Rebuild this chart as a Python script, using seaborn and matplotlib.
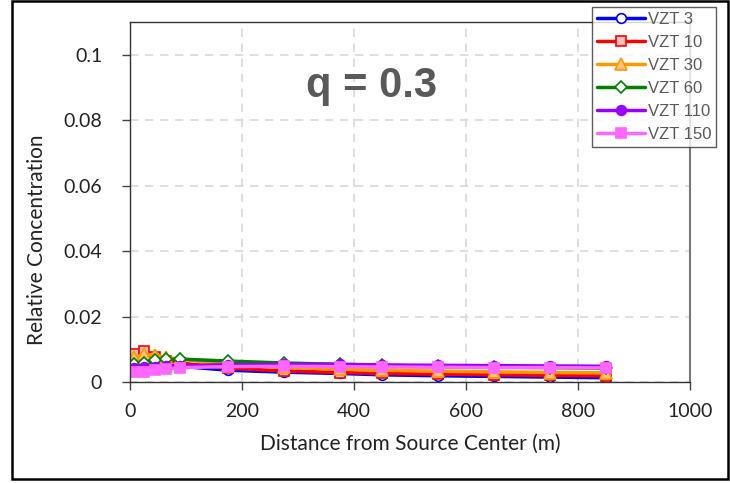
import pandas as pd
import numpy as np
import matplotlib
matplotlib.use("Agg")
import matplotlib.pyplot as plt
import seaborn as sns
from matplotlib.patches import Rectangle

# 数据
distance = [8, 25, 45, 65, 90, 175, 275, 375, 450, 550, 650, 750, 850]
vzt3 = [0.0055, 0.0058, 0.0055, 0.0050, 0.0048, 0.0036, 0.0030, 0.0026, 0.0022, 0.0019, 0.0017, 0.0015, 0.0013]
vzt10 = [0.0085, 0.0095, 0.0075, 0.0065, 0.0058, 0.0042, 0.0034, 0.0029, 0.0026, 0.0024, 0.0022, 0.0020, 0.0019]
vzt30 = [0.0075, 0.0085, 0.0082, 0.0075, 0.0070, 0.0052, 0.0045, 0.0039, 0.0036, 0.0033, 0.0031, 0.0029, 0.0028]
vzt60 = [0.0055, 0.0058, 0.0068, 0.0069, 0.0070, 0.0064, 0.0058, 0.0054, 0.0051, 0.0048, 0.0046, 0.0044, 0.0042]
vzt110 = [0.0042, 0.0045, 0.0047, 0.0049, 0.0050, 0.0053, 0.0054, 0.0054, 0.0052, 0.0051, 0.0050, 0.0049, 0.0048]
vzt150 = [0.0030, 0.0032, 0.0037, 0.0040, 0.0044, 0.0047, 0.0048, 0.0047, 0.0046, 0.0045, 0.0044, 0.0044, 0.0043]

series_names = ["VZT 3", "VZT 10", "VZT 30", "VZT 60", "VZT 110", "VZT 150"]
series_values = [vzt3, vzt10, vzt30, vzt60, vzt110, vzt150]

# 样式
line_colors = ["#0000FF", "#FF0000", "#FF9900", "#008000", "#9900FF", "#FF66FF"]
face_colors = ["white", "#FFBFBF", "#FFC080", "white", "#9900FF", "#FF66FF"]
marker_list = ["o", "s", "^", "D", "o", "s"]
marker_sizes = [7, 7, 8, 6, 7, 7]

sns.set_style("white")
plt.rcParams['font.family'] = ['DejaVu Sans']

fig = plt.figure(figsize=(7.3, 4.83), dpi=100)
ax = fig.add_axes([130 / 730, 101 / 483, 560 / 730, 360 / 483])

for name, vals, lc, fc, mk, ms in zip(series_names, series_values, line_colors,
                                       face_colors, marker_list, marker_sizes):
    df = pd.DataFrame({"x": distance, "y": vals})
    sns.lineplot(data=df, x="x", y="y", ax=ax, color=lc, linewidth=2.5,
                 marker=mk, markersize=ms, markerfacecolor=fc,
                 markeredgecolor=lc, markeredgewidth=1.2, label=name)

ax.set_xlim(0, 1000)
ax.set_ylim(0, 0.11)
ax.set_xticks([0, 200, 400, 600, 800, 1000])
ax.set_xticklabels(["0", "200", "400", "600", "800", "1000"])
ax.set_yticks([0, 0.02, 0.04, 0.06, 0.08, 0.1])
ax.set_yticklabels(["0", "0.02", "0.04", "0.06", "0.08", "0.1"])

tick_font = "Lato"
for lab in ax.get_xticklabels() + ax.get_yticklabels():
    lab.set_fontfamily(tick_font)
    lab.set_fontsize(14)
    lab.set_color("#222222")

ax.set_xlabel("Distance from Source Center (m)", fontsize=15, family=tick_font,
              color="#222222", labelpad=10)
ax.set_ylabel("Relative Concentration", fontsize=15, family=tick_font,
              color="#222222")
ax.yaxis.set_label_coords(-0.148, 0.394)

ax.grid(True, linestyle=(0, (5, 4)), color="#D9D9D9", linewidth=1.2)
ax.tick_params(axis="both", direction="out", length=6, width=1, color="#444444",
               left=True, bottom=True)
ax.tick_params(axis="y", pad=14)
ax.tick_params(axis="x", pad=9)

for side in ["left", "bottom", "top"]:
    ax.spines[side].set_color("#333333")
    ax.spines[side].set_linewidth(1)
ax.spines["right"].set_color("#777777")
ax.spines["right"].set_linewidth(1.5)

ax.text(432, 0.0905, "q = 0.3", fontsize=30, fontweight="bold",
        family="Liberation Sans", color="#595959", ha="center", va="center")

leg = ax.legend(loc="upper left", bbox_to_anchor=(592 / 730, 1 - 7 / 483),
                bbox_transform=fig.transFigure, frameon=True, fancybox=False,
                prop={"family": "Liberation Sans", "size": 12},
                labelspacing=0.48, handlelength=2.9, handletextpad=0.15,
                borderpad=0.3, borderaxespad=0)
leg.get_frame().set_edgecolor("#333333")
leg.get_frame().set_linewidth(1)
for t in leg.get_texts():
    t.set_color("#595959")

# 外框
fig.patches.append(Rectangle((12 / 730, 4 / 483), 716 / 730, 478 / 483,
                             transform=fig.transFigure, fill=False,
                             edgecolor="black", linewidth=1.8))

fig.savefig("out.png", dpi=100)
